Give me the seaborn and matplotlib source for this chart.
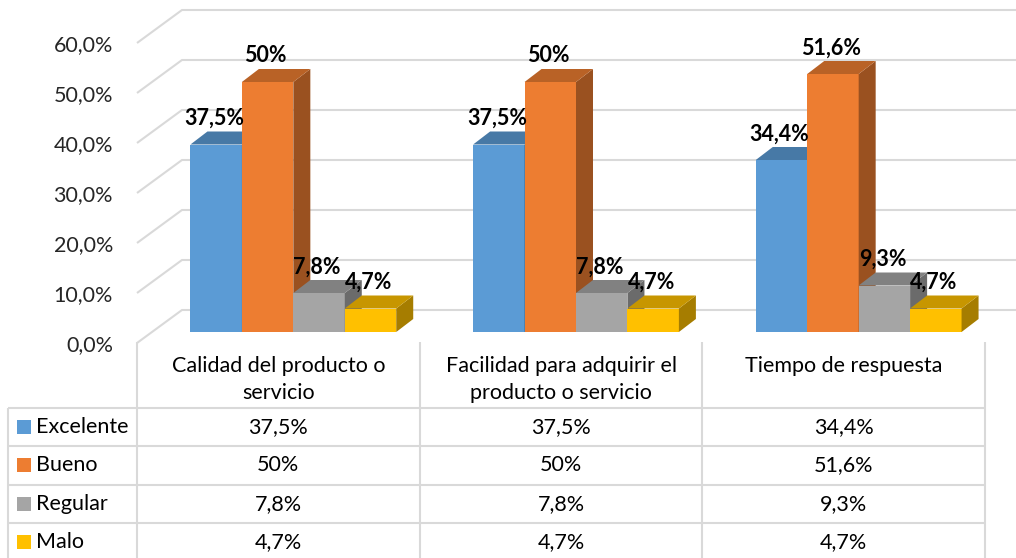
"""Faux-3D clustered column chart with a data table underneath."""
import matplotlib

matplotlib.use("Agg")
import matplotlib.pyplot as plt
import matplotlib.transforms as mtransforms
from matplotlib.patches import Polygon, Rectangle
import numpy as np
import pandas as pd
import seaborn as sns

# Data.
categorias = [
    "Calidad del producto o\nservicio",
    "Facilidad para adquirir el\nproducto o servicio",
    "Tiempo de respuesta",
]
niveles = ["Excelente", "Bueno", "Regular", "Malo"]
excelente = [37.5, 37.5, 34.4]
bueno = [50.0, 50.0, 51.6]
regular = [7.8, 7.8, 9.3]
malo = [4.7, 4.7, 4.7]
colores = ["#5B9BD5", "#ED7D31", "#A5A5A5", "#FFC000"]
y_ticks = [0, 10, 20, 30, 40, 50, 60]


def fmt_pct(v):
    """Format like Excel with a comma decimal, dropping a trailing ,0."""
    s = f"{v:.1f}"
    if s.endswith(".0"):
        s = s[:-2]
    return s.replace(".", ",") + "%"


def darker(color, factor):
    rgb = np.array(matplotlib.colors.to_rgb(color))
    return tuple(rgb * factor)


series = [excelente, bueno, regular, malo]
df = pd.DataFrame(
    {
        "categoria": np.tile(categorias, len(niveles)),
        "nivel": np.repeat(niveles, len(categorias)),
        "valor": np.concatenate(series),
    }
)

sns.set_theme(style="white")
plt.rcParams["font.family"] = ["Lato", "DejaVu Sans"]
FS = 15.5
GRID = "#d9d9d9"

W, H = 1016, 558
fig = plt.figure(figsize=(W / 100, H / 100), dpi=100)
fig.patch.set_facecolor("white")

# Plot area (front plane of the floor).
ax_left, ax_right, ax_bottom, ax_top = 137, 985, 343, 43
ax = fig.add_axes(
    [ax_left / W, (H - ax_bottom) / H, (ax_right - ax_left) / W, (ax_bottom - ax_top) / H]
)
ax.set_facecolor("none")

sns.barplot(
    data=df,
    x="categoria",
    y="valor",
    hue="nivel",
    order=categorias,
    hue_order=niveles,
    palette=colores,
    saturation=1,
    width=0.728,
    gap=0,
    errorbar=None,
    legend=False,
    ax=ax,
)
ax.set_xlim(-0.5, 2.5)
ax.set_ylim(0, 60)

x_per_px = 3 / (ax_right - ax_left)
y_per_px = 60 / (ax_bottom - ax_top)

# Back wall gridlines: diagonal across the floor/side, then horizontal.
full_dx, full_dy = 45 * x_per_px, 33 * y_per_px
for v in y_ticks:
    ax.plot(
        [-0.5, -0.5 + full_dx, 3.0],
        [v, v + full_dy, v + full_dy],
        color=GRID,
        lw=1.5,
        clip_on=False,
        zorder=1,
        solid_capstyle="butt",
    )

# Bars sit a third of the way back into the floor.
shift = mtransforms.ScaledTranslation(15 / 100, 11 / 100, fig.dpi_scale_trans)
bar_trans = ax.transData + shift
label_trans = ax.transData + mtransforms.ScaledTranslation(
    13 / 100, 37 / 100, fig.dpi_scale_trans
)
ddx, ddy = 17 * x_per_px, 13 * y_per_px

for k, container in enumerate(ax.containers):
    col = colores[k]
    for bar, v in zip(container.patches, series[k]):
        x0 = bar.get_x()
        x1 = x0 + bar.get_width()
        h = bar.get_height()
        bar.set_transform(bar_trans)
        bar.set_zorder(3 + k)
        bar.set_edgecolor("none")
        side = Polygon(
            [(x1, 0), (x1, h), (x1 + ddx, h + ddy), (x1 + ddx, ddy)],
            closed=True,
            facecolor=darker(col, 0.65),
            edgecolor="none",
            transform=bar_trans,
            zorder=3 + k,
        )
        top = Polygon(
            [(x0, h), (x1, h), (x1 + ddx, h + ddy), (x0 + ddx, h + ddy)],
            closed=True,
            facecolor=darker(col, 0.78),
            edgecolor="none",
            transform=bar_trans,
            zorder=3 + k,
        )
        ax.add_patch(side)
        ax.add_patch(top)
        ax.text(
            (x0 + x1) / 2,
            h,
            fmt_pct(v),
            transform=label_trans,
            ha="center",
            va="center",
            fontsize=FS,
            fontweight="bold",
            color="black",
            zorder=20,
        )

ax.set_yticks(y_ticks)
ax.set_yticklabels([f"{v:.1f}%".replace(".", ",") for v in y_ticks])
ax.tick_params(axis="y", length=0, pad=17.3, labelsize=FS, labelcolor="#262626")
ax.set_xticks([])
ax.set_xlabel("")
ax.set_ylabel("")
sns.despine(ax=ax, left=True, bottom=True)

# Data table below the plot.
t_top = 342
ax_t = fig.add_axes([ax_left / W, 0, (ax_right - ax_left) / W, (H - t_top) / H])
ax_t.set_xlim(-0.5, 2.5)
ax_t.set_ylim(H - t_top, 0)
ax_t.axis("off")

header_h, row_h = 66, 38.3
t_left = -0.5 - 129 * x_per_px
line_kw = dict(color=GRID, lw=1.5, clip_on=False, solid_capstyle="butt")

for xv in [-0.5, 0.5, 1.5, 2.5]:
    ax_t.plot([xv, xv], [0, H - t_top], **line_kw)
ax_t.plot([t_left, t_left], [header_h, H - t_top + 5], **line_kw)
for r in range(len(niveles)):
    yv = header_h + r * row_h
    ax_t.plot([t_left, 2.5], [yv, yv], **line_kw)

for i, cat in enumerate(categorias):
    ax_t.text(
        i, 14, cat, ha="center", va="top", fontsize=FS, linespacing=1.45,
        color="black",
    )

for r, (nivel, vals) in enumerate(zip(niveles, series)):
    yc = header_h + (r + 0.5) * row_h
    ax_t.add_patch(
        Rectangle(
            (t_left + 9 * x_per_px, yc - 7),
            14 * x_per_px,
            14,
            facecolor=colores[r],
            edgecolor="none",
            clip_on=False,
        )
    )
    ax_t.text(
        t_left + 28 * x_per_px, yc, nivel, ha="left", va="center",
        fontsize=FS, color="black",
    )
    for i, v in enumerate(vals):
        ax_t.text(i, yc, fmt_pct(v), ha="center", va="center", fontsize=FS,
                  color="black")

fig.savefig("out.png", dpi=100, facecolor="white")
